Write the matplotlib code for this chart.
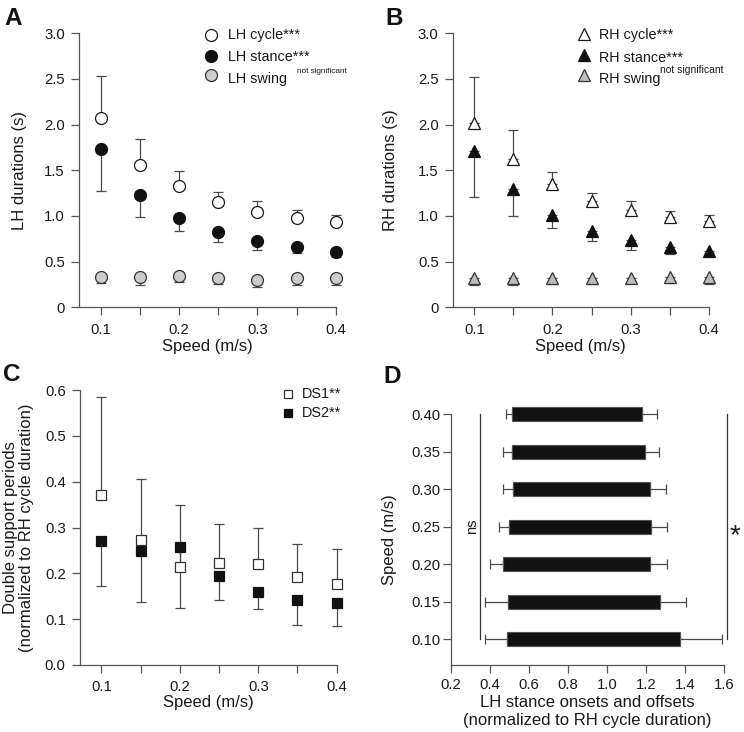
import matplotlib
matplotlib.use('Agg')
import matplotlib.pyplot as plt
import numpy as np

plt.rcParams['font.family'] = ['Liberation Sans', 'DejaVu Sans']

# ---------------- data ----------------
speed = [0.10, 0.15, 0.20, 0.25, 0.30, 0.35, 0.40]

lh_cycle = [2.07, 1.56, 1.33, 1.15, 1.04, 0.98, 0.93]
lh_cycle_sd = [0.46, 0.28, 0.16, 0.11, 0.12, 0.08, 0.075]
lh_stance = [1.73, 1.23, 0.98, 0.82, 0.73, 0.655, 0.61]
lh_stance_sd = [0.46, 0.24, 0.14, 0.105, 0.10, 0.056, 0.055]
lh_swing = [0.33, 0.33, 0.34, 0.32, 0.30, 0.32, 0.32]
lh_swing_sd = [0.06, 0.085, 0.065, 0.065, 0.08, 0.075, 0.075]

rh_cycle = [2.02, 1.62, 1.35, 1.16, 1.06, 0.99, 0.94]
rh_cycle_sd = [0.50, 0.32, 0.13, 0.09, 0.10, 0.065, 0.065]
rh_stance = [1.71, 1.30, 1.01, 0.84, 0.74, 0.66, 0.62]
rh_stance_sd = [0.50, 0.305, 0.145, 0.115, 0.11, 0.072, 0.03]
rh_swing = [0.32, 0.32, 0.32, 0.32, 0.32, 0.335, 0.33]
rh_swing_sd = [0.075, 0.075, 0.07, 0.06, 0.05, 0.065, 0.075]

ds1 = [0.37, 0.272, 0.214, 0.222, 0.22, 0.191, 0.176]
ds1_sd = [0.215, 0.134, 0.135, 0.085, 0.079, 0.072, 0.077]
ds2 = [0.271, 0.249, 0.258, 0.194, 0.16, 0.141, 0.135]
ds2_sd = [0.099, 0.112, 0.134, 0.053, 0.038, 0.053, 0.05]

onset = [0.489, 0.492, 0.468, 0.499, 0.516, 0.511, 0.511]
onset_sd = [0.113, 0.116, 0.07, 0.053, 0.049, 0.044, 0.03]
offset = [1.373, 1.273, 1.219, 1.226, 1.222, 1.193, 1.179]
offset_sd = [0.215, 0.134, 0.087, 0.084, 0.079, 0.072, 0.077]

xticks_major = [0.1, 0.2, 0.3, 0.4]
xticks_minor = [0.15, 0.25, 0.35]
dur_ticks = [0, 0.5, 1.0, 1.5, 2.0, 2.5, 3.0]
dur_labels = ['0', '0.5', '1.0', '1.5', '2.0', '2.5', '3.0']
ds_ticks = [0.0, 0.1, 0.2, 0.3, 0.4, 0.5, 0.6]
d_xticks = [0.2, 0.4, 0.6, 0.8, 1.0, 1.2, 1.4, 1.6]

# ---------------- figure ----------------
W, H = 744, 732
fig = plt.figure(figsize=(W / 100, H / 100), dpi=100)


def px_axes(l, t, r, b):
    return fig.add_axes([l / W, 1 - b / H, (r - l) / W, (b - t) / H])


axA = px_axes(79.3, 33.2, 335.7, 307.3)
axB = px_axes(453, 33.2, 708.7, 307.3)
axC = px_axes(80, 390, 336.7, 665)
axD = px_axes(451, 414, 724, 665)

SPINE = '#555555'
TXT = '#1a1a1a'
ECOL = '#4a4a4a'
LAB = 12
TICK = 10.7
LEG = 10.4


def style(ax, xpad, ypad):
    for s in ['top', 'right']:
        ax.spines[s].set_visible(False)
    for s in ['left', 'bottom']:
        ax.spines[s].set_color(SPINE)
        ax.spines[s].set_linewidth(0.9)
    ax.tick_params(which='both', direction='out', length=5.5, width=0.9,
                   color=SPINE, labelsize=TICK, labelcolor=TXT)
    ax.tick_params(axis='x', which='both', pad=xpad)
    ax.tick_params(axis='y', which='both', pad=ypad)


def err(ax, y, sd, up):
    z = np.zeros(len(sd))
    yerr = [z, sd] if up else [sd, z]
    ax.errorbar(speed, y, yerr=yerr, fmt='none', ecolor=ECOL, elinewidth=0.9,
                capsize=3.4, capthick=0.9, zorder=1, clip_on=False)


def speed_axes(ax):
    ax.set_xlim(0.0727, 0.4)
    ax.set_xticks(xticks_major)
    ax.set_xticklabels(['0.1', '0.2', '0.3', '0.4'])
    ax.set_xticks(xticks_minor, minor=True)
    ax.set_xlabel('Speed (m/s)', fontsize=LAB, color=TXT)


# ---- Panel A ----
ax = axA
style(ax, 6, 4.8)
err(ax, lh_cycle, lh_cycle_sd, True)
err(ax, lh_stance, lh_stance_sd, False)
err(ax, lh_swing, lh_swing_sd, False)
ms = 8.6
ax.plot(speed, lh_cycle, 'o', ms=ms, mfc='white', mec='#1a1a1a', mew=0.9, zorder=3, clip_on=False)
ax.plot(speed, lh_stance, 'o', ms=ms, mfc='#111111', mec='#111111', mew=0.9, zorder=3, clip_on=False)
ax.plot(speed, lh_swing, 'o', ms=ms, mfc='#cccccc', mec='#333333', mew=0.9, zorder=3, clip_on=False)
speed_axes(ax)
ax.set_ylim(0, 3.0)
ax.set_yticks(dur_ticks)
ax.set_yticklabels(dur_labels)
ax.set_ylabel('LH durations (s)', fontsize=LAB, color=TXT)
ax.xaxis.set_label_coords(0.5, -0.1437)
ax.xaxis.label.set_va('center')
ax.yaxis.set_label_coords(-0.235, 0.5)
ax.yaxis.label.set_va('center')
# legend
tr = ax.transAxes
for yy, fc, ec in [(0.9934, 'white', '#1a1a1a'), (0.917, '#111111', '#111111'), (0.8457, '#cccccc', '#333333')]:
    ax.plot([0.5125], [yy], 'o', ms=ms, mfc=fc, mec=ec, mew=0.9, transform=tr, clip_on=False)
ax.text(0.581, 0.979, 'LH cycle***', transform=tr, fontsize=LEG, color=TXT, va='baseline')
ax.text(0.581, 0.900, 'LH stance***', transform=tr, fontsize=LEG, color=TXT, va='baseline')
ax.text(0.581, 0.820, 'LH swing', transform=tr, fontsize=LEG, color=TXT, va='baseline')
ax.text(0.848, 0.856, 'not significant', transform=tr, fontsize=5.9, color=TXT, va='baseline')

# ---- Panel B ----
ax = axB
style(ax, 6, 4.8)
err(ax, rh_cycle, rh_cycle_sd, True)
err(ax, rh_stance, rh_stance_sd, False)
err(ax, rh_swing, rh_swing_sd, False)
mt = 8.2
ax.plot(speed, rh_cycle, '^', ms=mt, mfc='white', mec='#1a1a1a', mew=0.9, zorder=3, clip_on=False)
ax.plot(speed, rh_stance, '^', ms=mt, mfc='#111111', mec='#111111', mew=0.9, zorder=3, clip_on=False)
ax.plot(speed, rh_swing, '^', ms=mt, mfc='#bdbdbd', mec='#333333', mew=0.9, zorder=3, clip_on=False)
speed_axes(ax)
ax.set_ylim(0, 3.0)
ax.set_yticks(dur_ticks)
ax.set_yticklabels(dur_labels)
ax.set_ylabel('RH durations (s)', fontsize=LAB, color=TXT)
ax.xaxis.set_label_coords(0.5, -0.1437)
ax.xaxis.label.set_va('center')
ax.yaxis.set_label_coords(-0.2425, 0.5)
ax.yaxis.label.set_va('center')
tr = ax.transAxes
for yy, fc, ec in [(0.9965, 'white', '#1a1a1a'), (0.920, '#111111', '#111111'), (0.8475, '#bdbdbd', '#333333')]:
    ax.plot([0.511], [yy], '^', ms=mt, mfc=fc, mec=ec, mew=0.9, transform=tr, clip_on=False)
ax.text(0.5698, 0.979, 'RH cycle***', transform=tr, fontsize=LEG, color=TXT, va='baseline')
ax.text(0.5698, 0.896, 'RH stance***', transform=tr, fontsize=LEG, color=TXT, va='baseline')
ax.text(0.5698, 0.817, 'RH swing', transform=tr, fontsize=LEG, color=TXT, va='baseline')
ax.text(0.8095, 0.8537, 'not significant', transform=tr, fontsize=7.5, color=TXT, va='baseline')

# ---- Panel C ----
ax = axC
style(ax, 5.3, 4.8)
err(ax, ds1, ds1_sd, True)
err(ax, ds2, ds2_sd, False)
msq = 7.6
ax.plot(speed, ds1, 's', ms=msq, mfc='white', mec='#333333', mew=0.9, zorder=3, clip_on=False)
ax.plot(speed, ds2, 's', ms=msq, mfc='#111111', mec='#111111', mew=0.9, zorder=3, clip_on=False)
speed_axes(ax)
ax.set_ylim(0, 0.6)
ax.set_yticks(ds_ticks)
ax.set_yticklabels(['%.1f' % v for v in ds_ticks])
ax.set_ylabel('Double support periods\n(normalized to RH cycle duration)', fontsize=LAB,
              color=TXT, linespacing=1.1)
ax.xaxis.set_label_coords(0.5, -0.138)
ax.xaxis.label.set_va('center')
ax.yaxis.set_label_coords(-0.24, 0.5)
ax.yaxis.label.set_va('center')
tr = ax.transAxes
msl = 6.0
ax.plot([0.8115], [0.9855], 's', ms=msl, mfc='white', mec='#333333', mew=0.9, transform=tr, clip_on=False)
ax.plot([0.8115], [0.9175], 's', ms=msl, mfc='#111111', mec='#111111', mew=0.9, transform=tr, clip_on=False)
ax.text(0.8636, 0.970, 'DS1**', transform=tr, fontsize=LEG, color=TXT, va='baseline')
ax.text(0.8636, 0.903, 'DS2**', transform=tr, fontsize=LEG, color=TXT, va='baseline')

# ---- Panel D ----
ax = axD
style(ax, 4, 2)
on = np.array(onset)
off = np.array(offset)
z = np.zeros(len(speed))
ax.errorbar(on, speed, xerr=[onset_sd, z], fmt='none', ecolor=ECOL, elinewidth=0.9,
            capsize=3.6, capthick=0.9, zorder=1, clip_on=False)
ax.errorbar(off, speed, xerr=[z, offset_sd], fmt='none', ecolor=ECOL, elinewidth=0.9,
            capsize=3.6, capthick=0.9, zorder=1, clip_on=False)
ax.barh(speed, off - on, left=on, height=0.0186, color='#111111', edgecolor='#555555',
        linewidth=0.8, zorder=2, clip_on=False)
ax.set_xlim(0.2, 1.6)
ax.set_xticks(d_xticks)
ax.set_xticklabels(['%.1f' % v for v in d_xticks])
ax.set_ylim(0.066, 0.40)
ax.set_yticks(speed)
ax.set_yticklabels(['%.2f' % v for v in speed])
ax.plot([0.347, 0.347], [0.10, 0.40], color='#333333', lw=0.9, clip_on=False)
ax.plot([1.615, 1.615], [0.10, 0.40], color='#333333', lw=0.9, clip_on=False)
ax.text(0.3077, 0.25, 'ns', rotation=90, fontsize=10.5, color=TXT, ha='center', va='center')
ax.text(1.656, 0.2285, '*', fontsize=20, color=TXT, ha='center', va='baseline', clip_on=False)
ax.set_xlabel('LH stance onsets and offsets\n(normalized to RH cycle duration)', fontsize=LAB,
              color=TXT, linespacing=1.2)
ax.set_ylabel('Speed (m/s)', fontsize=LAB, color=TXT)
ax.xaxis.set_label_coords(0.5, -0.185)
ax.xaxis.label.set_va('center')
ax.yaxis.set_label_coords(-0.226, 0.5)
ax.yaxis.label.set_va('center')

# ---- panel letters ----
for x, y, s in [(4, 25, 'A'), (385, 25, 'B'), (3.5, 381, 'C'), (383.7, 382.7, 'D')]:
    fig.text(x / W, 1 - y / H, s, fontsize=17.5, fontweight='bold', color='#111111', va='baseline', ha='left')

fig.savefig('out.png', dpi=100)
